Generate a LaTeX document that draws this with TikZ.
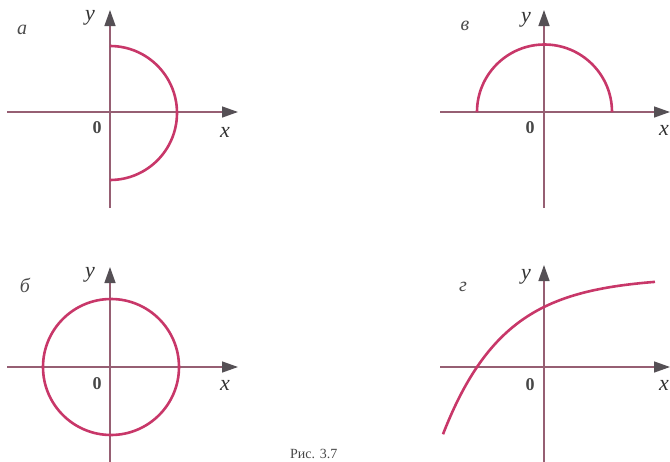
\documentclass[tikz,border=0pt]{standalone}
\usepackage{fontspec}
\setmainfont{Liberation Serif}
\usetikzlibrary{arrows.meta}
\definecolor{curvec}{RGB}{200,55,105}
\definecolor{axisc}{RGB}{150,95,115}
\definecolor{tipc}{RGB}{85,80,85}
\tikzset{
  axisline/.style={draw=axisc, line width=1.4pt},
  axisarrow/.style={axisline, -{Triangle[length=16pt,width=11pt,color=tipc]}},
  graphline/.style={draw=curvec, line width=2.6pt},
  varlabel/.style={font=\fontsize{22}{22}\selectfont\itshape, text=black!80, inner sep=0pt},
  zerolabel/.style={font=\fontsize{18}{18}\selectfont\bfseries, text=black!72, inner sep=0pt},
  panellabel/.style={font=\fontsize{20}{20}\selectfont\itshape, text=black!70, inner sep=0pt},
}
\begin{document}
\begin{tikzpicture}[x=1pt,y=1pt]
\useasboundingbox (0,0) rectangle (670,-461);
% ---------- panel a ----------
\begin{scope}[shift={(110,-112)}]
  \coordinate (aL) at (-103,0); \coordinate (aR) at (128,0);
  \coordinate (aB) at (0,-96);  \coordinate (aT) at (0,102);
  \draw[axisarrow] (aL) -- (aR);
  \draw[axisarrow] (aB) -- (aT);
  \coordinate (aS) at (0,66);
  \draw[graphline] (aS) arc[start angle=90, end angle=-90, radius=67];
  \node[panellabel] (la) at (-88,82) {а};
  \node[varlabel] (ya) at (-20,94) {y};
  \node[zerolabel] (oa) at (-13,-16) {0};
  \node[varlabel] (xa) at (115,-20) {x};
\end{scope}
% ---------- panel v ----------
\begin{scope}[shift={(544,-112)}]
  \coordinate (vL) at (-104,0); \coordinate (vR) at (126,0);
  \coordinate (vB) at (0,-96);  \coordinate (vT) at (0,102);
  \draw[axisarrow] (vL) -- (vR);
  \draw[axisarrow] (vB) -- (vT);
  \coordinate (vS) at (-67,0);
  \draw[graphline] (vS) arc[start angle=180, end angle=0, radius=67.5];
  \node[panellabel] (lv) at (-79,86) {в};
  \node[varlabel] (yv) at (-18,92) {y};
  \node[zerolabel] (ov) at (-14,-16) {0};
  \node[varlabel] (xv) at (120,-18) {x};
\end{scope}
% ---------- panel b ----------
\begin{scope}[shift={(110,-367)}]
  \coordinate (bL) at (-103,0); \coordinate (bR) at (128,0);
  \coordinate (bB) at (0,-96);  \coordinate (bT) at (0,100);
  \draw[axisarrow] (bL) -- (bR);
  \draw[axisarrow] (bB) -- (bT);
  \coordinate (bC) at (1,0);
  \draw[graphline] (bC) circle[radius=68];
  \node[panellabel] (lb) at (-85,82) {б};
  \node[varlabel] (yb) at (-20,92) {y};
  \node[zerolabel] (ob) at (-13,-17) {0};
  \node[varlabel] (xb) at (115,-18) {x};
\end{scope}
% ---------- panel g ----------
\begin{scope}[shift={(544,-367)}]
  \coordinate (gL) at (-104,0); \coordinate (gR) at (126,0);
  \coordinate (gB) at (0,-96);  \coordinate (gT) at (0,102);
  \draw[axisarrow] (gL) -- (gR);
  \draw[axisarrow] (gB) -- (gT);
  \draw[graphline, domain=-101:111, samples=80, smooth]
    plot (\x, {90-30*exp(-0.0164*\x)});
  \node[panellabel] (lg) at (-81,80) {г};
  \node[varlabel] (yg) at (-18,90) {y};
  \node[zerolabel] (og) at (-14,-18) {0};
  \node[varlabel] (xg) at (120,-18) {x};
\end{scope}
% ---------- caption ----------
\node[font=\fontsize{14}{14}\selectfont, text=black!72, inner sep=0pt, anchor=base west] (cap) at (290,-458) {Рис. 3.7};
\end{tikzpicture}
\end{document}
